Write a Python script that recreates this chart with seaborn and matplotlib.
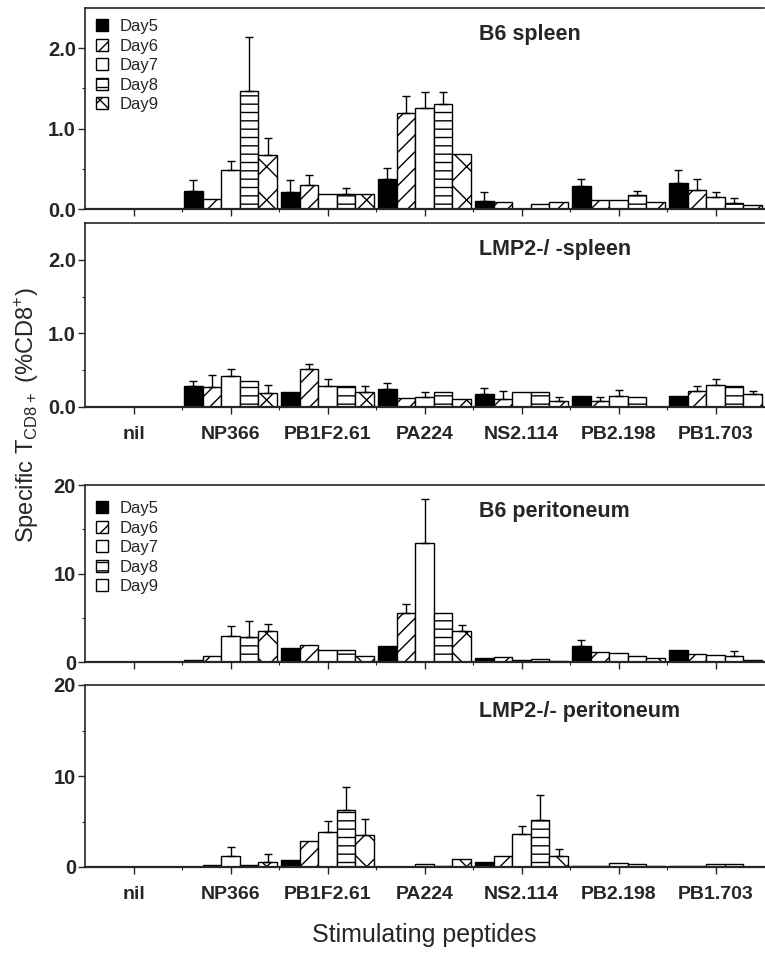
import numpy as np
import pandas as pd
import seaborn as sns
import matplotlib.pyplot as plt
from matplotlib.patches import Patch
from matplotlib.ticker import FixedLocator, FormatStrFormatter

peptides = ["nil", "NP366", "PB1F2.61", "PA224", "NS2.114", "PB2.198", "PB1.703"]
days = ["Day5", "Day6", "Day7", "Day8", "Day9"]

# rows = days, columns = peptides ; values in % of CD8+
b6_spleen = [
    [0, 0.23, 0.21, 0.37, 0.10, 0.28, 0.32],
    [0, 0.12, 0.30, 1.20, 0.09, 0.11, 0.24],
    [0, 0.49, 0.19, 1.26, 0.00, 0.11, 0.15],
    [0, 1.47, 0.19, 1.30, 0.06, 0.18, 0.08],
    [0, 0.67, 0.19, 0.69, 0.09, 0.09, 0.05],
]
b6_spleen_err = [
    [0, 0.13, 0.15, 0.14, 0.11, 0.09, 0.17],
    [0, 0.00, 0.12, 0.21, 0.00, 0.00, 0.13],
    [0, 0.11, 0.00, 0.20, 0.00, 0.00, 0.06],
    [0, 0.67, 0.07, 0.16, 0.00, 0.05, 0.06],
    [0, 0.21, 0.00, 0.00, 0.00, 0.00, 0.00],
]
lmp2_spleen = [
    [0, 0.28, 0.20, 0.25, 0.18, 0.15, 0.15],
    [0, 0.27, 0.51, 0.12, 0.11, 0.08, 0.22],
    [0, 0.42, 0.29, 0.14, 0.20, 0.15, 0.30],
    [0, 0.36, 0.28, 0.21, 0.20, 0.13, 0.28],
    [0, 0.19, 0.20, 0.11, 0.08, 0.00, 0.17],
]
lmp2_spleen_err = [
    [0, 0.07, 0.00, 0.08, 0.08, 0.00, 0.00],
    [0, 0.17, 0.08, 0.00, 0.11, 0.05, 0.06],
    [0, 0.10, 0.09, 0.07, 0.00, 0.08, 0.08],
    [0, 0.00, 0.00, 0.00, 0.00, 0.00, 0.00],
    [0, 0.11, 0.09, 0.00, 0.05, 0.00, 0.05],
]
b6_perit = [
    [0.05, 0.26, 1.6, 1.8, 0.45, 1.80, 1.32],
    [0.05, 0.64, 1.9, 5.5, 0.57, 1.13, 0.87],
    [0.05, 2.90, 1.3, 13.4, 0.26, 1.06, 0.75],
    [0.05, 2.80, 1.3, 5.5, 0.38, 0.68, 0.64],
    [0.05, 3.50, 0.64, 3.5, 0.10, 0.50, 0.20],
]
b6_perit_err = [
    [0, 0.0, 0, 0.0, 0, 0.7, 0.0],
    [0, 0.0, 0, 1.0, 0, 0.0, 0.0],
    [0, 1.2, 0, 5.0, 0, 0.0, 0.0],
    [0, 1.8, 0, 0.0, 0, 0.0, 0.55],
    [0, 0.8, 0, 0.7, 0, 0.0, 0.0],
]
lmp2_perit = [
    [0, 0.05, 0.80, 0.00, 0.55, 0.10, 0.10],
    [0, 0.20, 2.90, 0.05, 1.20, 0.15, 0.10],
    [0, 1.20, 3.85, 0.37, 3.60, 0.48, 0.37],
    [0, 0.20, 6.30, 0.10, 5.20, 0.30, 0.30],
    [0, 0.55, 3.50, 0.88, 1.20, 0.10, 0.00],
]
lmp2_perit_err = [
    [0, 0.0, 0.00, 0, 0.0, 0, 0],
    [0, 0.0, 0.00, 0, 0.0, 0, 0],
    [0, 1.0, 1.25, 0, 0.9, 0, 0],
    [0, 0.0, 2.50, 0, 2.7, 0, 0],
    [0, 0.9, 1.80, 0, 0.8, 0, 0],
]

fills = ["black", "white", "white", "white", "white"]
hatches = [None, "//", None, "--", "x"]

sns.set_style("ticks")
plt.rcParams["font.family"] = ["Liberation Sans", "DejaVu Sans"]
plt.rcParams["hatch.linewidth"] = 1.0

fig = plt.figure(figsize=(7.65, 9.55), dpi=100)

# panel boxes in pixels: top, bottom
boxes = [(8, 209), (223, 407), (485, 662), (685, 867)]
panels = [
    (b6_spleen, b6_spleen_err, "B6 spleen", 2.5, True, False),
    (lmp2_spleen, lmp2_spleen_err, "LMP2-/ -spleen", 2.5, False, True),
    (b6_perit, b6_perit_err, "B6 peritoneum", 20, True, False),
    (lmp2_perit, lmp2_perit_err, "LMP2-/- peritoneum", 20, False, True),
]

W, H = 765, 955
for (top, bot), (vals, errs, title, ymax, show_leg, show_xlab) in zip(boxes, panels):
    h = bot - top
    ax = fig.add_axes([85 / W, 1 - bot / H, (764 - 85) / W, h / H])
    df = pd.DataFrame(
        [(p, d, vals[i][j]) for i, d in enumerate(days) for j, p in enumerate(peptides)],
        columns=["peptide", "day", "value"],
    )
    sns.barplot(data=df, x="peptide", y="value", hue="day", order=peptides,
                hue_order=days, width=0.96, errorbar=None, legend=False,
                palette=fills, saturation=1, edgecolor="black", linewidth=1, ax=ax)
    bar_groups = list(ax.containers)
    for k, cont in enumerate(bar_groups):
        xs, ys, es = [], [], []
        for j, bar in enumerate(cont.patches):
            bar.set_facecolor(fills[k])
            bar.set_edgecolor("black")
            if hatches[k]:
                bar.set_hatch(hatches[k])
            if errs[k][j] > 0:
                xs.append(bar.get_x() + bar.get_width() / 2)
                ys.append(bar.get_height())
                es.append(errs[k][j])
        if xs:
            ax.errorbar(xs, ys, yerr=[np.zeros(len(es)), es], fmt="none",
                        ecolor="black", elinewidth=1, capsize=3, capthick=1)

    ax.set_xlim(-0.5, 6.5)
    ax.set_ylim(0, ymax)
    ax.set_xlabel("")
    ax.set_ylabel("")
    ax.spines["right"].set_visible(False)
    for s in ["left", "bottom", "top"]:
        ax.spines[s].set_linewidth(1.2)
    ax.spines["bottom"].set_linewidth(1.6)

    ax.xaxis.set_minor_locator(FixedLocator(np.arange(0.5, 6.0, 1)))
    if ymax < 5:
        ax.set_yticks([0, 1, 2])
        ax.yaxis.set_major_formatter(FormatStrFormatter("%.1f"))
        ax.yaxis.set_minor_locator(FixedLocator([0.5, 1.5]))
    else:
        ax.set_yticks([0, 10, 20])
        ax.yaxis.set_minor_locator(FixedLocator([5, 15]))
    ax.tick_params(axis="both", which="major", direction="out", length=5, width=1,
                   labelsize=14.5, pad=1.5)
    ax.tick_params(axis="both", which="minor", direction="out", length=2.5, width=0.8)
    for lab in ax.get_yticklabels():
        lab.set_fontweight("bold")
    if show_xlab:
        ax.set_xticks(range(len(peptides)))
        ax.set_xticklabels(peptides, fontweight="bold", fontsize=14)
        ax.tick_params(axis="x", pad=9)
    else:
        ax.set_xticklabels([])

    ax.text(0.58, 1 - 26 / h, title, transform=ax.transAxes,
            fontsize=15.5, fontweight="bold", va="center", ha="left")

    if show_leg:
        handles = [Patch(facecolor=fills[k], edgecolor="black", hatch=hatches[k],
                         label=days[k]) for k in range(len(days))]
        ax.legend(handles=handles, loc="upper left",
                  bbox_to_anchor=(0.016, 1 - (11 if top < 100 else 16) / h),
                  frameon=False, fontsize=12, handlelength=0.75, handleheight=0.75,
                  handletextpad=0.7, labelspacing=0.27, borderpad=0,
                  borderaxespad=0)

fig.text(0.035, 0.565, r"Specific T$_\mathregular{CD8+}$ (%CD8$^\mathregular{+}$)",
         rotation=90, ha="center", va="center", fontsize=17,
         family=["Liberation Sans Narrow", "Liberation Sans"])
fig.text(0.555, 0.021, "Stimulating peptides", ha="center", va="center", fontsize=18)

fig.savefig("out.png", dpi=100)
